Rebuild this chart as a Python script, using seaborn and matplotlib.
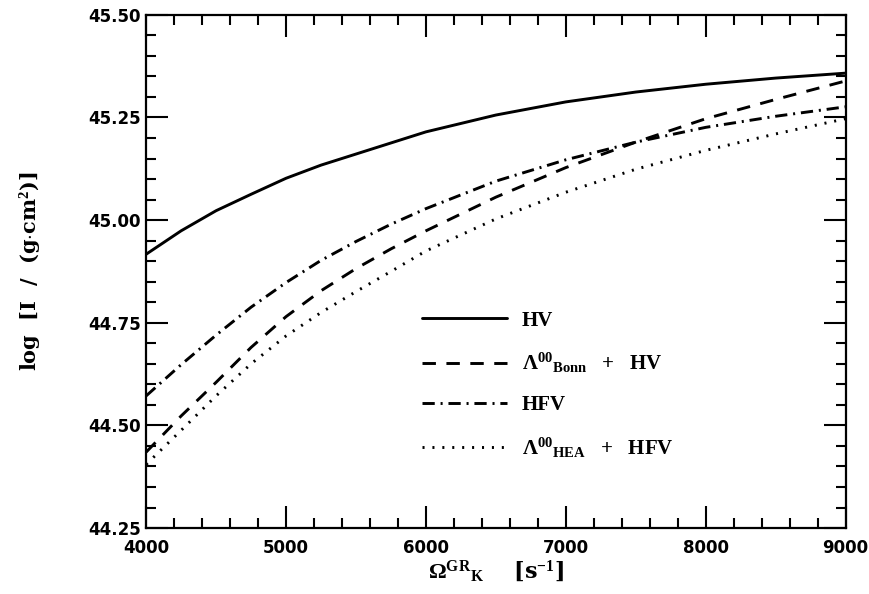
import numpy as np
import pandas as pd
import matplotlib
matplotlib.use("Agg")
import matplotlib.pyplot as plt
import seaborn as sns
from matplotlib.ticker import MultipleLocator, FixedLocator

omega = [4000, 4250, 4500, 4750, 5000, 5250, 5500, 5750, 6000, 6500, 7000, 7500, 8000, 8500, 9000]
hv = [44.917, 44.974, 45.023, 45.063, 45.102, 45.134, 45.161, 45.188, 45.215,
      45.256, 45.288, 45.312, 45.331, 45.346, 45.358]
bonn_hv = [44.435, 44.523, 44.605, 44.690, 44.765, 44.828, 44.882, 44.930, 44.974,
           45.056, 45.128, 45.190, 45.247, 45.294, 45.339]
hfv = [44.572, 44.648, 44.720, 44.788, 44.848, 44.902, 44.948, 44.990, 45.028,
       45.095, 45.147, 45.190, 45.226, 45.253, 45.276]
hea_hfv = [44.405, 44.488, 44.572, 44.650, 44.718, 44.775, 44.826, 44.875, 44.925,
           45.003, 45.068, 45.124, 45.170, 45.210, 45.247]

labels = ["HV",
          r"$\Lambda^{00}{}_{\mathbf{Bonn}}$   +   HV",
          "HFV",
          r"$\Lambda^{00}{}_{\mathbf{HEA}}$   +   HFV"]
xticks = [4000, 5000, 6000, 7000, 8000, 9000]
yticks = [44.25, 44.50, 44.75, 45.00, 45.25, 45.50]

sns.set_theme(style="ticks")
plt.rcParams['font.family'] = ['DejaVu Sans']
plt.rcParams['text.color'] = 'black'
plt.rcParams['axes.labelcolor'] = 'black'
plt.rcParams['mathtext.fontset'] = 'custom'
plt.rcParams['mathtext.rm'] = 'Liberation Serif:bold'
plt.rcParams['mathtext.bf'] = 'Liberation Serif:bold'
plt.rcParams['mathtext.it'] = 'Liberation Serif:bold'

fig = plt.figure(figsize=(8.7, 5.94), dpi=100)
ax = fig.add_axes([0.168, 0.111, 0.804, 0.864])

lw = 2.1
styles = ['-', (0, (4.6, 3.6)), (0, (4.2, 2.0, 0.7, 2.0)), (0, (0.7, 2.7))]
series = [hv, bonn_hv, hfv, hea_hfv]
for vals, lab, ls in zip(series, labels, styles):
    df = pd.DataFrame({"x": omega, "y": vals})
    sns.lineplot(data=df, x="x", y="y", ax=ax, color="black", lw=lw,
                 linestyle=ls, label=lab, legend=False)

ax.set_xlim(4000, 9000)
ax.set_ylim(44.25, 45.50)
ax.xaxis.set_major_locator(FixedLocator(xticks))
ax.yaxis.set_major_locator(FixedLocator(yticks))
ax.xaxis.set_minor_locator(MultipleLocator(200))
ax.yaxis.set_minor_locator(MultipleLocator(0.05))
ax.set_xticklabels([str(v) for v in xticks])
ax.set_yticklabels([f"{v:.2f}" for v in yticks])
ax.tick_params(which='both', direction='in', top=True, right=True, color='black', width=1.5)
ax.tick_params(which='major', length=15.5)
ax.tick_params(which='minor', length=7)
ax.tick_params(axis='x', which='major', pad=8)
ax.tick_params(axis='y', which='major', pad=4)
for t in ax.get_xticklabels() + ax.get_yticklabels():
    t.set_fontweight('bold')
    t.set_fontsize(12)
    t.set_family('DejaVu Sans')
    t.set_color('black')
for s in ax.spines.values():
    s.set_linewidth(1.6)
    s.set_color('black')

ax.set_xlabel(r"$\Omega^{\mathbf{GR}}{}_{\mathbf{K}}$    [s$^{-1}$]", fontsize=16,
              family='DejaVu Serif', fontweight='bold', labelpad=1)
ax.set_ylabel(r"log  [I  /  (g$\cdot$cm$^{\mathbf{2}}$)]", fontsize=15, family='DejaVu Serif',
              fontweight='bold', labelpad=32)

handles = ax.get_lines()
leg = ax.legend(handles=handles, labels=labels, loc='upper left', bbox_to_anchor=(0.367, 0.46),
                frameon=False, handlelength=4.1, handletextpad=0.7, labelspacing=0.97,
                prop={'family': 'Liberation Serif', 'weight': 'bold', 'size': 15})
for t in leg.get_texts():
    t.set_color('black')

fig.savefig("out.png", dpi=100, facecolor='white')
